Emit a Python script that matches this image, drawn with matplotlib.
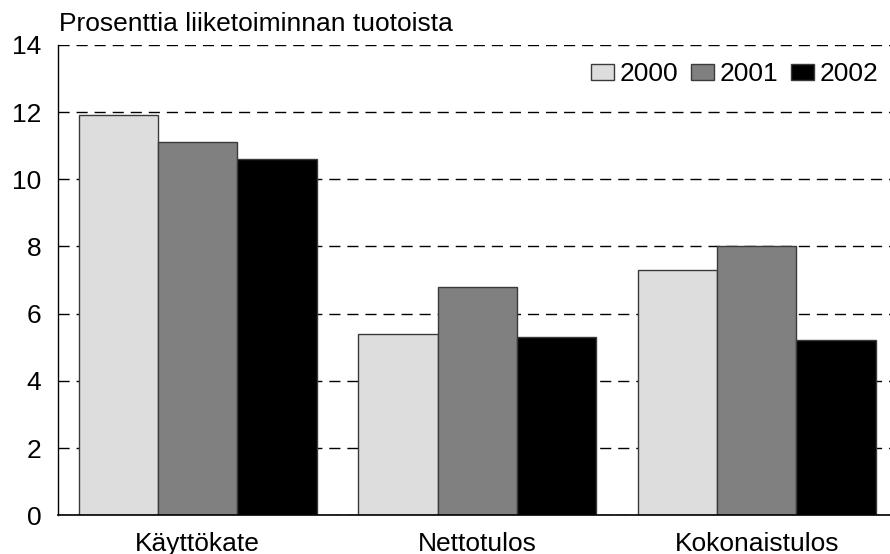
import matplotlib
matplotlib.use("Agg")
import matplotlib.pyplot as plt
import numpy as np
from matplotlib.patches import Patch

plt.rcParams['font.family'] = ['Liberation Sans', 'DejaVu Sans']

categories = ["Käyttökate", "Nettotulos", "Kokonaistulos"]
years = ["2000", "2001", "2002"]
v2000 = [11.9, 5.4, 7.3]
v2001 = [11.1, 6.8, 8.0]
v2002 = [10.6, 5.3, 5.2]
series = [v2000, v2001, v2002]
colors = ["#DDDDDD", "#808080", "#000000"]
yticks = [0, 2, 4, 6, 8, 10, 12, 14]
title = "Prosenttia liiketoiminnan tuotoista"

FS = 19
W, H = 890, 554
fig = plt.figure(figsize=(W / 100, H / 100), dpi=100)
left, right, top, bottom = 58, 890, 44.8, 515.2
ax = fig.add_axes([left / W, (H - bottom) / H, (right - left) / W, (bottom - top) / H])

x = np.arange(len(categories))
bw = 0.2838
for i, (vals, c) in enumerate(zip(series, colors)):
    ax.bar(x + (i - 1) * bw, vals, width=bw, color=c, edgecolor="#3a3a3a",
           linewidth=1.0, zorder=3, label=years[i])

ax.set_xlim(-0.5, -0.5 + (right - left) / 279.5)
ax.set_ylim(0, 14)
ax.set_yticks(yticks)
ax.set_yticklabels([str(t) for t in yticks])
ax.set_xticks(x)
ax.set_xticklabels(categories)
ax.tick_params(axis='both', length=0, labelsize=FS, colors='black')
ax.tick_params(axis='y', pad=12)
ax.tick_params(axis='x', pad=12)

ax.yaxis.grid(True, linestyle=(0, (8, 5)), color='black', linewidth=1.0, zorder=0)
ax.set_axisbelow(True)
for s in ['top', 'right']:
    ax.spines[s].set_visible(False)
ax.spines['left'].set_linewidth(1.0)
ax.spines['bottom'].set_linewidth(1.2)
ax.spines['bottom'].set_zorder(4)

fig.text(left / W + 0.001, 1 - 31 / H, title, fontsize=FS, ha='left', va='baseline')

handles = [Patch(facecolor=c, edgecolor="#3a3a3a", linewidth=1.0) for c in colors]
fig.legend(handles, years, loc='center right', bbox_to_anchor=(878 / W, 1 - 74 / H),
           ncol=3, frameon=False, fontsize=FS, handlelength=0.87, handleheight=0.57,
           handletextpad=0.2, columnspacing=0.5, borderpad=0, borderaxespad=0)

fig.savefig("out.png", dpi=100)
